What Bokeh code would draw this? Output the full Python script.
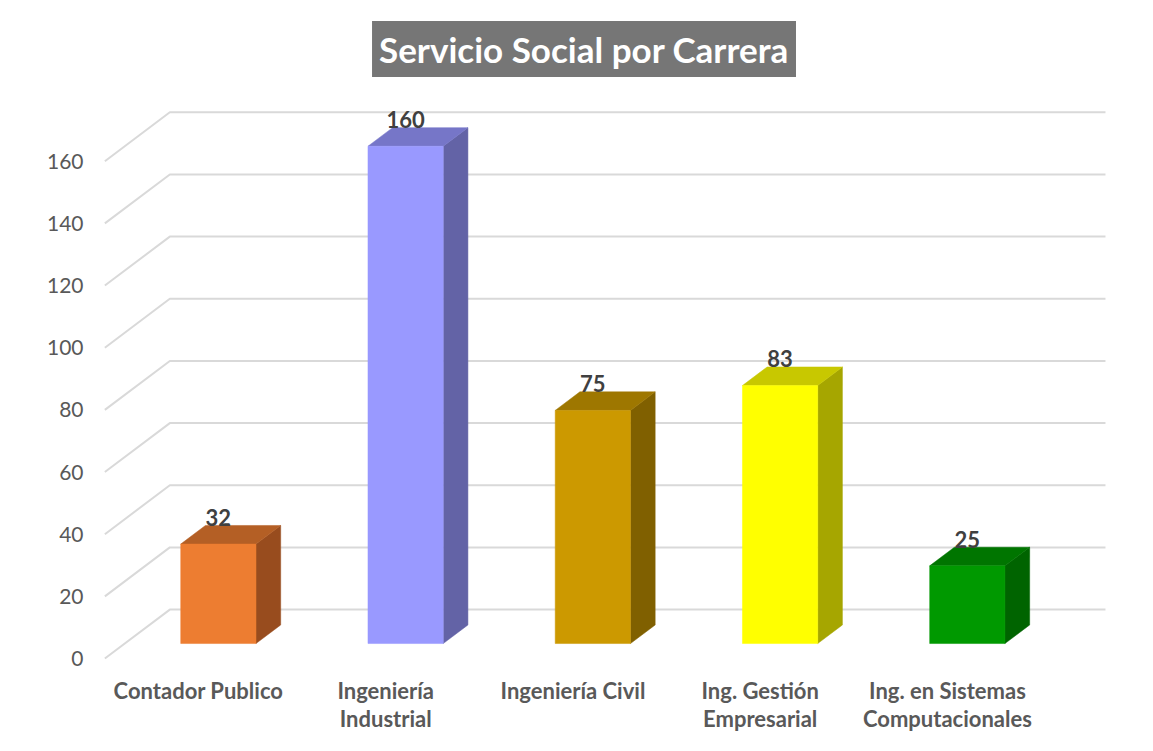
from bokeh.plotting import figure
from bokeh.models import Range1d, FixedTicker, Label, ColumnDataSource
from bokeh.embed import file_html
from bokeh.resources import INLINE
from bokeh.core.properties import value

# ---------------- data ----------------
categories = ["Contador Publico", "Ingeniería\nIndustrial", "Ingeniería Civil",
              "Ing. Gestión\nEmpresarial", "Ing. en Sistemas\nComputacionales"]
values = [32, 160, 75, 83, 25]
front_colors = ["#ED7D31", "#9999FF", "#CC9900", "#FFFF00", "#009900"]
top_colors = ["#B45F25", "#7676C8", "#9E7700", "#C8C800", "#007500"]
side_colors = ["#984C1E", "#6363A6", "#806000", "#A6A600", "#006400"]
y_ticks = [0, 20, 40, 60, 80, 100, 120, 140, 160]
title_text = "Servicio Social por Carrera"

# ---------------- 3D geometry (style constants) ----------------
DEPTH_DX = 0.347      # depth offset of the floor in category units
DEPTH_DY = 15.74      # depth offset of the floor in value units
F0, F1 = 0.306, 0.686 # depth fractions of bar front and back
HALF = 0.201          # half width of bar front face
GRID_X0 = -0.500
GRID_X1 = 4.844

p = figure(width=1137, height=735, output_backend="svg", toolbar_location=None,
           x_range=Range1d(-0.550, 5.015), y_range=Range1d(-0.964, 211.7),
           min_border_left=95, min_border_right=0, min_border_top=0, min_border_bottom=73)
p.outline_line_color = None
p.xgrid.visible = False
p.ygrid.visible = False
p.background_fill_color = "white"
p.border_fill_color = "white"

# gridlines: side wall diagonal + back wall horizontal
gx, gy = [], []
for t in y_ticks:
    gx.append([GRID_X0, GRID_X0 + DEPTH_DX, GRID_X1])
    gy.append([t, t + DEPTH_DY, t + DEPTH_DY])
p.multi_line(gx, gy, line_color="#D9D9D9", line_width=2)

# bars
fx, fy, sx, sy, tx, ty = [], [], [], [], [], []
ddx = (F1 - F0) * DEPTH_DX
ddy = (F1 - F0) * DEPTH_DY
lx, ly = [], []
for i, v in enumerate(values):
    c = i + F0 * DEPTH_DX
    xl, xr = c - HALF, c + HALF
    b = F0 * DEPTH_DY
    fx.append([xl, xr, xr, xl]); fy.append([b, b, b + v, b + v])
    sx.append([xr, xr + ddx, xr + ddx, xr]); sy.append([b, b + ddy, b + ddy + v, b + v])
    tx.append([xl, xr, xr + ddx, xl + ddx]); ty.append([b + v, b + v, b + v + ddy, b + v + ddy])
    lx.append(c); ly.append(b + v + ddy)

p.patches(sx, sy, fill_color=side_colors, line_color=side_colors, line_width=0.5)
p.patches(tx, ty, fill_color=top_colors, line_color=top_colors, line_width=0.5)
p.patches(fx, fy, fill_color=front_colors, line_color=front_colors, line_width=0.5)

src = ColumnDataSource(dict(x=lx, y=ly, t=[str(v) for v in values]))
p.text(x="x", y="y", text="t", source=src, text_align="center", text_baseline="alphabetic",
       y_offset=-8, text_font=value("Lato"), text_font_style="bold",
       text_font_size="22px", text_color="#404040")

# axes
yax = p.yaxis[0]
yax.ticker = FixedTicker(ticks=y_ticks)
yax.axis_line_color = None
yax.major_tick_line_color = None
yax.minor_tick_line_color = None
yax.major_tick_out = 0
yax.major_tick_in = 0
yax.minor_tick_out = 0
yax.major_label_text_font = "Lato"
yax.major_label_text_font_size = "21px"
yax.major_label_text_color = "#595959"
yax.major_label_standoff = 12

xax = p.xaxis[0]
xax.ticker = FixedTicker(ticks=list(range(len(categories))))
xax.major_label_overrides = {i: c for i, c in enumerate(categories)}
xax.axis_line_color = None
xax.major_tick_line_color = None
xax.minor_tick_line_color = None
xax.major_tick_out = 0
xax.major_tick_in = 0
xax.minor_tick_out = 0
xax.major_label_text_font = "Lato"
xax.major_label_text_font_style = "bold"
xax.major_label_text_font_size = "22px"
xax.major_label_text_color = "#595959"
xax.major_label_text_line_height = 1.06
xax.major_label_standoff = 15

# title box
p.add_layout(Label(x=2.059, y=196.1, text=title_text, text_align="center",
                   text_baseline="middle", text_font="Lato", text_font_style="bold",
                   text_font_size="35px", text_color="white",
                   background_fill_color="#767676", padding=7))

open("out.html", "w").write(file_html(p, INLINE))
